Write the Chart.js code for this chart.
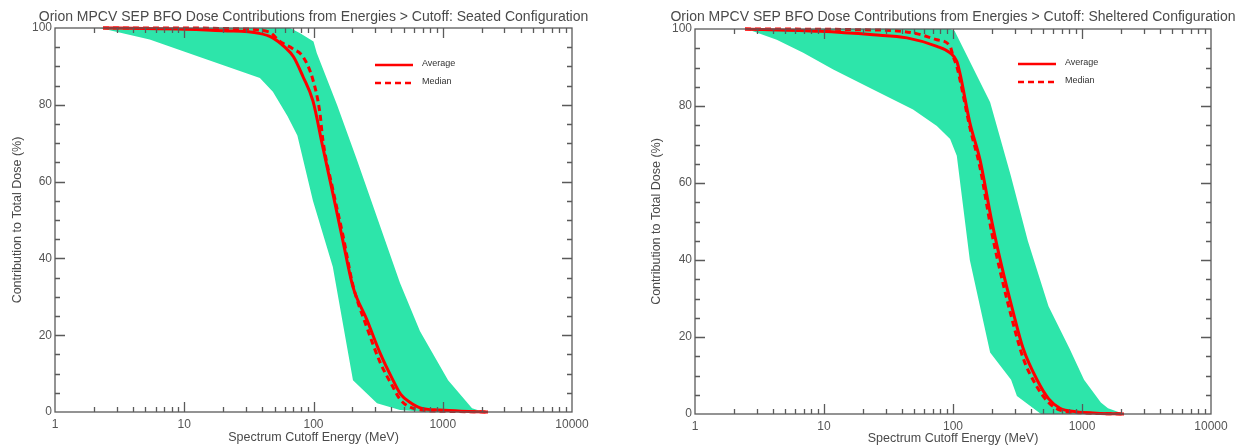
<!DOCTYPE html>
<html>
<head>
<meta charset="utf-8">
<script src="https://cdn.jsdelivr.net/npm/chart.js@4.4.1/dist/chart.umd.min.js"></script>
<style>
  html, body { margin: 0; padding: 0; background: #ffffff; }
  #wrap { position: relative; width: 1248px; height: 446px; overflow: hidden; }
  #c1 { position: absolute; left: 0; top: 0; }
  #c2 { position: absolute; left: 620px; top: 0; }
</style>
</head>
<body>
<div id="wrap">
  <canvas id="c1" width="620" height="446"></canvas>
  <canvas id="c2" width="628" height="446"></canvas>
</div>
<script>
// ---------- tick labels ----------
const xTickLabels = ['1', '10', '100', '1000', '10000'];
const yTickValues = [0, 20, 40, 60, 80, 100];
const seriesLabels = ['Average', 'Median'];

// ---------- Seated configuration ----------
const seatedMaxE = [1, 66, 80, 100, 106, 152, 217, 467, 667, 1100, 1685, 2080];
const seatedMaxV = [100, 100, 98.5, 96.5, 93.5, 80, 65.6, 33.6, 21, 8.3, 1, 0];
const seatedMinE = [1, 2.2, 2.6, 5.4, 13, 38.5, 48.5, 63, 75, 99, 141, 202, 310, 467, 770, 2080];
const seatedMinV = [100, 100, 99.5, 97, 92.5, 87, 83.4, 77, 72, 55, 37.8, 8.3, 2.3, 0.5, 0, 0];
const seatedAvgE = [2.35, 5, 10, 20, 38, 48, 60, 70, 83, 99, 118, 141, 169, 202, 259, 327, 412, 475, 560, 679, 950, 1400, 2240];
const seatedAvgV = [100, 99.9, 99.7, 99.3, 98.6, 97.5, 95, 92.5, 87.3, 81, 69, 57, 44.5, 32.6, 24, 15.4, 8.3, 4.5, 2.5, 1, 0.5, 0.2, 0];
const seatedMedE = [2.35, 10, 25, 45, 55, 70, 83, 99, 112, 118, 141, 169, 202, 259, 327, 412, 475, 679, 1000, 2240];
const seatedMedV = [100, 100, 99.8, 99, 96.5, 94.5, 92.5, 86.5, 78, 71, 58, 46, 33, 22, 13, 6.5, 3, 0.5, 0.2, 0];

// ---------- Sheltered configuration ----------
const shelteredMaxE = [1, 95, 103, 194, 280, 380, 550, 800, 1037, 1400, 1590, 2117];
const shelteredMaxV = [100, 100, 99.5, 81, 62, 45, 28, 17, 8.9, 3, 1.5, 0];
const shelteredMinE = [1, 2.52, 4.3, 6.9, 11.8, 24, 49, 75, 95, 107, 135, 194, 282, 313, 481, 2117];
const shelteredMinV = [100, 100, 97.2, 93.8, 89.5, 84.3, 79.1, 74.8, 71.4, 67.1, 40, 16, 8.9, 4.7, 0, 0];
const shelteredAvgE = [2.44, 9.3, 24, 44, 75, 95, 107, 113, 135, 162, 200, 240, 290, 350, 448, 550, 675, 900, 1300, 2117];
const shelteredAvgV = [100, 99.4, 98.5, 97.7, 95.5, 93.8, 91.6, 88.6, 75.7, 66, 50, 38, 27, 17, 8.9, 4, 1.5, 0.6, 0.2, 0];
const shelteredMedE = [2.44, 20, 49, 75, 95, 100, 107, 113, 135, 162, 200, 240, 290, 350, 440, 550, 675, 900, 2117];
const shelteredMedV = [100, 99.8, 99, 97.2, 95.5, 93, 90.3, 87, 74.5, 64, 47, 35, 24, 14.5, 7.5, 3, 1, 0.4, 0];

// ---------- styles ----------
const AXIS = '#5a5a5a';
const TEXT = '#4a4a4a';
const GREEN = '#2de5aa';
const RED = '#ff0000';
const FONT = "'Liberation Sans', Arial, Helvetica, sans-serif";

function pts(e, v) { return e.map((x, i) => ({ x: x, y: v[i] })); }

const frameTicks = {
  id: 'frameTicks',
  afterDatasetsDraw(chart) {
    const { ctx, chartArea: a, scales: { x, y } } = chart;
    ctx.save();
    ctx.strokeStyle = AXIS;
    ctx.lineWidth = 1.3;
    ctx.strokeRect(a.left, a.top, a.right - a.left, a.bottom - a.top);
    ctx.beginPath();
    for (let d = 1; d < 10000; d *= 10) {
      for (let m = 1; m <= 9; m++) {
        const v = d * m;
        if (v <= x.min || v >= x.max) continue;
        const px = Math.round(x.getPixelForValue(v)) + 0.5;
        const len = m === 1 ? 10 : 5;
        ctx.moveTo(px, a.bottom); ctx.lineTo(px, a.bottom - len);
        ctx.moveTo(px, a.top); ctx.lineTo(px, a.top + len);
      }
    }
    for (let v = 5; v < 100; v += 5) {
      const py = Math.round(y.getPixelForValue(v)) + 0.5;
      const len = v % 20 === 0 ? 10 : 5;
      ctx.moveTo(a.left, py); ctx.lineTo(a.left + len, py);
      ctx.moveTo(a.right, py); ctx.lineTo(a.right - len, py);
    }
    ctx.stroke();
    ctx.restore();
  }
};

const centerTitle = {
  id: 'centerTitle',
  afterDraw(chart, args, opts) {
    const { ctx, chartArea: a } = chart;
    ctx.save();
    ctx.font = '14px ' + FONT;
    ctx.fillStyle = TEXT;
    ctx.textAlign = 'center';
    ctx.textBaseline = 'middle';
    ctx.fillText(opts.text, (a.left + a.right) / 2, opts.y);
    ctx.restore();
  }
};

const insideLegend = {
  id: 'insideLegend',
  afterDraw(chart, args, opts) {
    const { ctx, chartArea: a } = chart;
    ctx.save();
    ctx.font = '9px ' + FONT;
    ctx.textBaseline = 'middle';
    ctx.textAlign = 'left';
    [2, 3].forEach((di, k) => {
      const ds = chart.data.datasets[di];
      const yy = a.top + opts.dy + k * 18;
      const x0 = a.left + opts.dx;
      ctx.strokeStyle = ds.borderColor;
      ctx.lineWidth = 2.5;
      ctx.setLineDash(ds.borderDash || []);
      ctx.beginPath(); ctx.moveTo(x0, yy); ctx.lineTo(x0 + 38, yy); ctx.stroke();
      ctx.setLineDash([]);
      ctx.fillStyle = '#333';
      ctx.fillText(ds.label, x0 + 47, yy - 1);
    });
    ctx.restore();
  }
};

function makeChart(id, title, maxE, maxV, minE, minV, avgE, avgV, medE, medV, L) {
  return new Chart(document.getElementById(id), {
    type: 'line',
    data: {
      datasets: [
        { label: 'max', data: pts(maxE, maxV), fill: 1, order: 5, backgroundColor: GREEN, borderColor: GREEN, borderWidth: 0, pointRadius: 0, tension: 0 },
        { label: 'min', data: pts(minE, minV), fill: false, order: 6, backgroundColor: GREEN, borderColor: GREEN, borderWidth: 0, pointRadius: 0, tension: 0 },
        { label: seriesLabels[0], data: pts(avgE, avgV), order: 1, borderColor: RED, borderWidth: 3, pointRadius: 0, fill: false, cubicInterpolationMode: 'monotone', clip: 4 },
        { label: seriesLabels[1], data: pts(medE, medV), order: 0, borderColor: RED, borderWidth: 3, borderDash: [6, 4], pointRadius: 0, fill: false, cubicInterpolationMode: 'monotone', clip: 4 }
      ]
    },
    options: {
      responsive: false,
      animation: false,
      devicePixelRatio: 1,
      layout: { padding: { left: 0, right: L.padRight, top: L.padTop, bottom: 0 } },
      plugins: {
        legend: { display: false },
        tooltip: { enabled: false },
        title: { display: false },
        centerTitle: { text: title, y: 17 },
        insideLegend: { dx: L.legDx, dy: L.legDy }
      },
      scales: {
        x: {
          type: 'logarithmic', min: 1, max: 10000,
          grid: { display: false, drawTicks: false },
          border: { display: false },
          ticks: {
            autoSkip: false, maxRotation: 0, padding: 5, color: '#555',
            font: { family: FONT, size: 12 },
            callback: (v) => xTickLabels.includes(String(v)) ? String(v) : ''
          },
          title: { display: true, text: 'Spectrum Cutoff Energy (MeV)', color: TEXT,
                   font: { family: FONT, size: 12.5 }, padding: { top: 0, bottom: L.xTitleBottom } },
          afterFit: (s) => { s.height = L.xHeight; }
        },
        y: {
          min: 0, max: 100,
          grid: { display: false, drawTicks: false },
          border: { display: false },
          ticks: {
            stepSize: 20, padding: 3, color: '#555',
            font: { family: FONT, size: 12 },
            callback: (v) => yTickValues.includes(v) ? String(v) : ''
          },
          title: { display: true, text: 'Contribution to Total Dose (%)', color: TEXT,
                   font: { family: FONT, size: 12.5 }, padding: { top: L.yTitleTop, bottom: 0 } },
          afterFit: (s) => { s.width = L.yWidth; }
        }
      }
    },
    plugins: [frameTicks, insideLegend, centerTitle]
  });
}

makeChart('c1', 'Orion MPCV SEP BFO Dose Contributions from Energies > Cutoff: Seated Configuration',
  seatedMaxE, seatedMaxV, seatedMinE, seatedMinV, seatedAvgE, seatedAvgV, seatedMedE, seatedMedV,
  { padRight: 48, padTop: 28, xHeight: 34, xTitleBottom: 0.5, yTitleTop: 10.5, yWidth: 55, legDx: 320, legDy: 37 });

makeChart('c2', 'Orion MPCV SEP BFO Dose Contributions from Energies > Cutoff: Sheltered Configuration',
  shelteredMaxE, shelteredMaxV, shelteredMinE, shelteredMinV, shelteredAvgE, shelteredAvgV, shelteredMedE, shelteredMedV,
  { padRight: 37, padTop: 29, xHeight: 32, xTitleBottom: 0, yTitleTop: 29.5, yWidth: 75, legDx: 323, legDy: 35 });
</script>
</body>
</html>
